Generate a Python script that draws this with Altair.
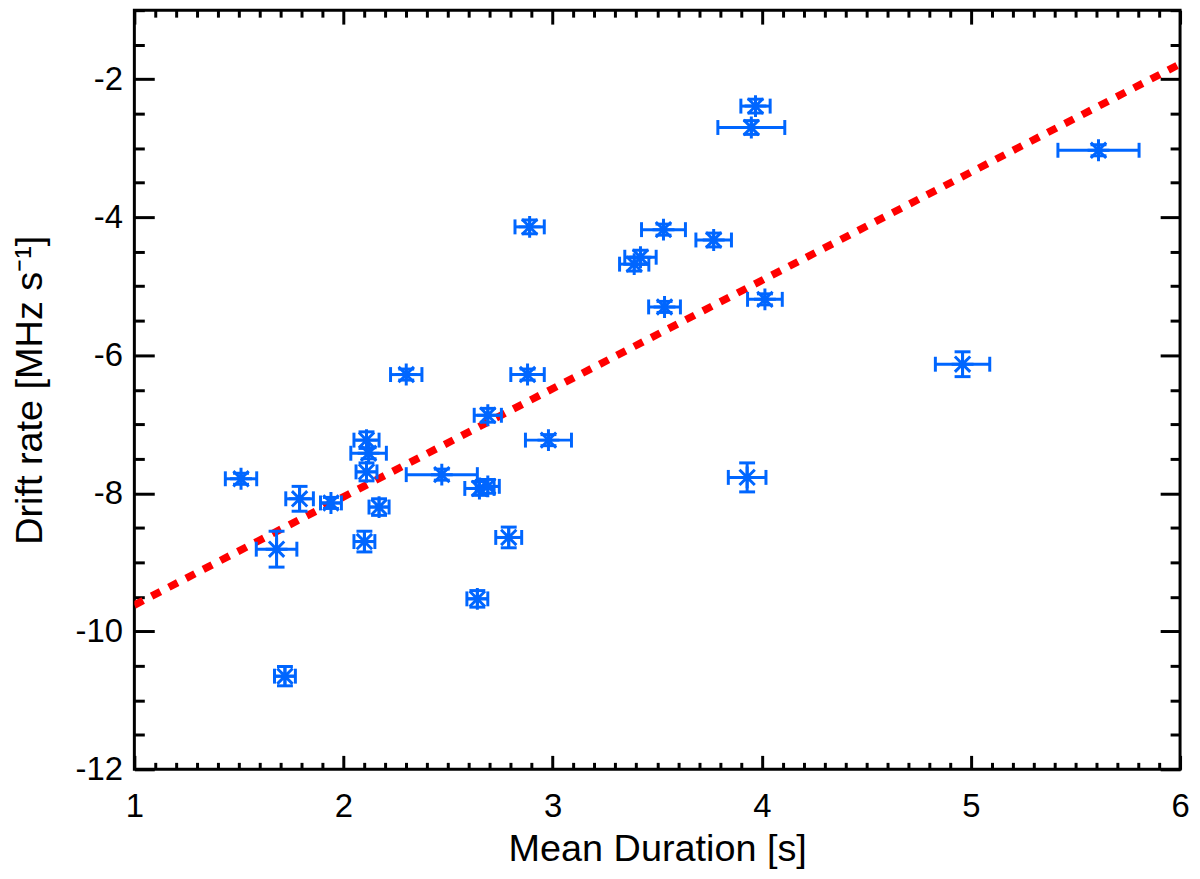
import altair as alt
import pandas as pd

# mean duration [s] with its error
duration = [1.51, 1.68, 1.72, 1.79, 1.94, 2.11, 2.12, 2.11, 2.10, 2.17,
            2.30, 2.47, 2.65, 2.69, 2.64, 2.69, 2.79, 2.88, 2.98, 2.89,
            3.39, 3.42, 3.53, 3.535, 3.77, 4.015, 3.97, 3.95, 5.61, 4.96, 3.93]
duration_err = [0.075, 0.097, 0.05, 0.066, 0.05, 0.06, 0.085, 0.05, 0.05, 0.048,
                0.075, 0.17, 0.07, 0.055, 0.05, 0.065, 0.062, 0.08, 0.11, 0.07,
                0.07, 0.075, 0.105, 0.076, 0.085, 0.083, 0.07, 0.16, 0.194, 0.13, 0.09]

# drift rate [MHz/s] with its error
drift = [-7.79, -8.81, -10.65, -8.08, -8.14, -7.23, -7.42, -7.69, -8.70, -8.20,
         -6.28, -7.73, -7.93, -7.90, -9.53, -6.87, -8.64, -6.28, -7.23, -4.14,
         -4.68, -4.58, -4.18, -5.30, -4.33, -5.19, -2.39, -2.70, -3.03, -6.13, -7.77]
drift_err = [0.08, 0.26, 0.14, 0.18, 0.08, 0.12, 0.08, 0.13, 0.15, 0.12,
             0.08, 0.08, 0.10, 0.10, 0.12, 0.10, 0.15, 0.08, 0.08, 0.10,
             0.10, 0.10, 0.08, 0.08, 0.10, 0.08, 0.10, 0.10, 0.08, 0.18, 0.21]

# linear fit (dotted red line)
fit_x = [1, 6]
fit_y = [-9.62, -1.78]

x_major = [1, 2, 3, 4, 5, 6]
x_minor = [round(1 + i / 10, 1) for i in range(51) if i % 10]
y_major = [-12, -10, -8, -6, -4, -2]
y_minor = [-12 + i / 2 for i in range(23) if i % 4]

W, H = 1051, 763
BLUE = "#0066ff"
FONT = "Liberation Sans"

pts = pd.DataFrame({"dur": duration, "derr": duration_err,
                    "drift": drift, "rerr": drift_err})
pts["x_lo"] = pts.dur - pts.derr
pts["x_hi"] = pts.dur + pts.derr
pts["y_lo"] = pts.drift - pts.rerr
pts["y_hi"] = pts.drift + pts.rerr

xcaps = pd.concat([pd.DataFrame({"x": pts.x_lo, "y": pts.drift}),
                   pd.DataFrame({"x": pts.x_hi, "y": pts.drift})])
ycaps = pd.concat([pd.DataFrame({"x": pts.dur, "y": pts.y_lo}),
                   pd.DataFrame({"x": pts.dur, "y": pts.y_hi})])
fit = pd.DataFrame({"x": fit_x, "y": fit_y})

xs = alt.Scale(domain=[1, 6], nice=False, zero=False)
ys = alt.Scale(domain=[-12, -1], nice=False, zero=False)


def tick_axis(orient, values, size, offset):
    # label-less axis, pushed to the opposite edge so its ticks point inward
    return alt.Axis(orient=orient, offset=offset, values=values, tickSize=size,
                    tickWidth=3, tickColor="black", labels=False, domain=False,
                    grid=False, title=None)


lbl = "'' + datum.value"

fit_line = alt.Chart(fit).mark_line(
    color="red", strokeWidth=7.5, strokeDash=[10, 9.5], strokeCap="butt", clip=True
).encode(
    x=alt.X("x:Q", scale=xs, axis=alt.Axis(
        values=x_major, ticks=False, domain=False, grid=False, labelExpr=lbl,
        labelFlush=False, labelFont=FONT, labelFontSize=33, labelColor="black",
        labelPadding=21, title="Mean Duration [s]", titleFont=FONT,
        titleFontSize=38, titleFontWeight="normal", titleColor="black",
        titlePadding=8)),
    y=alt.Y("y:Q", scale=ys, axis=alt.Axis(
        values=y_major, ticks=False, domain=False, grid=False, labelExpr=lbl,
        labelFlush=False, labelFont=FONT, labelFontSize=33, labelColor="black",
        labelPadding=12, title="Drift rate [MHz s⁻¹]", titleFont=FONT,
        titleFontSize=38, titleFontWeight="normal", titleColor="black",
        titlePadding=26)),
)

xerr = alt.Chart(pts).mark_rule(color=BLUE, strokeWidth=3).encode(
    x=alt.X("x_lo:Q", scale=xs, axis=tick_axis("top", x_major, 14, -H)),
    x2="x_hi:Q",
    y=alt.Y("drift:Q", scale=ys, axis=tick_axis("right", y_major, 20, -W)),
)

xcap = alt.Chart(xcaps).mark_tick(
    color=BLUE, orient="vertical", size=15, thickness=3, opacity=1
).encode(
    x=alt.X("x:Q", scale=xs, axis=tick_axis("top", x_minor, 7, -H)),
    y=alt.Y("y:Q", scale=ys, axis=tick_axis("right", y_minor, 10, -W)),
)

yerr = alt.Chart(pts).mark_rule(color=BLUE, strokeWidth=3).encode(
    x=alt.X("dur:Q", scale=xs, axis=tick_axis("bottom", x_major, 14, -H)),
    y=alt.Y("y_lo:Q", scale=ys, axis=tick_axis("left", y_major, 20, -W)),
    y2="y_hi:Q",
)

ycap = alt.Chart(ycaps).mark_tick(
    color=BLUE, orient="horizontal", size=16, thickness=3, opacity=1
).encode(
    x=alt.X("x:Q", scale=xs, axis=tick_axis("bottom", x_minor, 7, -H)),
    y=alt.Y("y:Q", scale=ys, axis=tick_axis("left", y_minor, 10, -W)),
)

star = "M0,-1L0,1M-1,0L1,0M-0.7,-0.7L0.7,0.7M-0.7,0.7L0.7,-0.7"
points = alt.Chart(pts).mark_point(
    shape=star, size=484, filled=False, strokeWidth=3, color=BLUE, opacity=1
).encode(
    x=alt.X("dur:Q", scale=xs, axis=None),
    y=alt.Y("drift:Q", scale=ys, axis=None),
)

chart = alt.layer(fit_line, xerr, xcap, yerr, ycap, points).resolve_axis(
    x="independent", y="independent"
).properties(
    width=W, height=H,
    autosize=alt.AutoSizeParams(type="none"),
    padding={"left": 127, "top": 0, "right": 12, "bottom": 100},
).configure_view(
    stroke="black", strokeWidth=3
)

chart.save("out.html", embed_options={"renderer": "svg", "actions": False})
